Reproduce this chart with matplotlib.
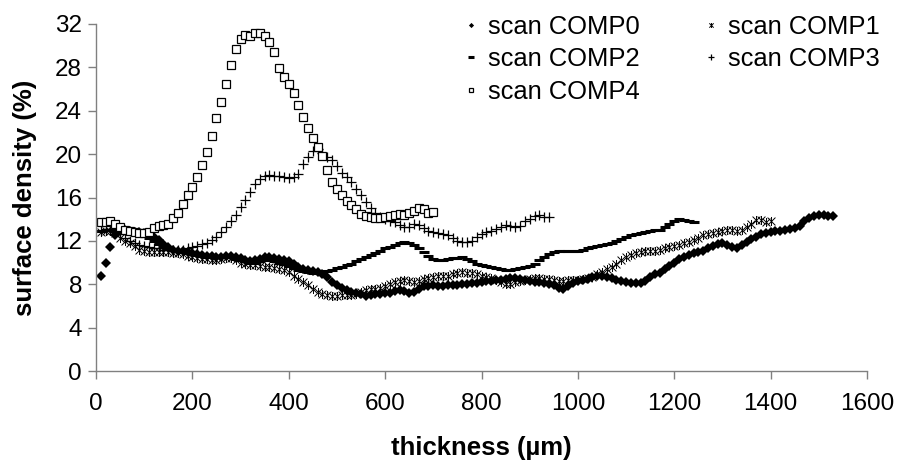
import numpy as np
import matplotlib
matplotlib.use("Agg")
import matplotlib.pyplot as plt
from matplotlib.path import Path

plt.rcParams['font.family'] = ['Liberation Sans', 'DejaVu Sans']

# ---------------- data (thickness step 10 µm, first sample at 10 µm) ----------------
x_start = 10
x_step = 10

comp0 = [8.8, 10.0, 11.4, 12.5, 12.9, 13.0, 12.9, 12.8, 12.8, 12.7,
         12.6, 12.4, 12.1, 11.7, 11.4, 11.2, 11.1, 11.1, 11.0, 10.9,
         10.8, 10.7, 10.6, 10.6, 10.5, 10.5, 10.6, 10.6, 10.5, 10.4,
         10.2, 10.1, 10.2, 10.3, 10.5, 10.5, 10.4, 10.3, 10.2, 10.1,
         9.9, 9.6, 9.4, 9.3, 9.2, 9.1, 8.9, 8.7, 8.2, 7.9,
         7.7, 7.5, 7.3, 7.2, 7.1, 6.9, 7.0, 7.1, 7.1, 7.2,
         7.2, 7.4, 7.5, 7.4, 7.2, 7.3, 7.6, 7.8, 7.8, 7.9,
         7.8, 7.8, 7.9, 7.9, 7.9, 8.0, 8.0, 8.1, 8.1, 8.2,
         8.3, 8.3, 8.4, 8.4, 8.5, 8.6, 8.6, 8.5, 8.4, 8.3,
         8.2, 8.2, 8.1, 8.0, 7.9, 7.7, 7.6, 7.8, 8.1, 8.3,
         8.4, 8.5, 8.7, 8.8, 8.8, 8.7, 8.6, 8.4, 8.3, 8.2,
         8.1, 8.1, 8.1, 8.3, 8.7, 8.9, 9.0, 9.4, 9.7, 10.0,
         10.3, 10.5, 10.7, 10.9, 11.0, 11.1, 11.3, 11.5, 11.7, 11.8,
         11.6, 11.4, 11.3, 11.6, 11.9, 12.2, 12.4, 12.6, 12.7, 12.8,
         12.9, 12.9, 13.0, 13.1, 13.2, 13.4, 13.8, 14.1, 14.3, 14.4,
         14.4, 14.3, 14.3]

comp1 = [12.8, 12.9, 12.9, 12.7, 12.3, 12.0, 11.8, 11.5, 11.2, 11.1,
         11.0, 11.0, 11.0, 11.0, 11.0, 10.9, 10.9, 10.8, 10.6, 10.5,
         10.4, 10.3, 10.3, 10.2, 10.2, 10.3, 10.4, 10.4, 10.2, 10.0,
         9.9, 9.8, 9.8, 9.7, 9.6, 9.6, 9.5, 9.4, 9.3, 9.1,
         8.8, 8.5, 8.2, 7.9, 7.6, 7.3, 7.1, 7.0, 6.9, 6.9,
         7.0, 7.0, 7.0, 7.1, 7.3, 7.5, 7.6, 7.6, 7.7, 7.8,
         8.0, 8.2, 8.3, 8.4, 8.3, 8.2, 8.3, 8.5, 8.6, 8.7,
         8.8, 8.8, 8.8, 8.9, 9.0, 9.1, 9.0, 9.0, 8.9, 8.8,
         8.7, 8.6, 8.4, 8.2, 8.0, 8.0, 8.2, 8.3, 8.4, 8.5,
         8.6, 8.6, 8.5, 8.5, 8.4, 8.3, 8.3, 8.4, 8.4, 8.4,
         8.5, 8.6, 8.7, 8.9, 9.1, 9.4, 9.6, 9.9, 10.2, 10.5,
         10.7, 10.9, 11.0, 11.1, 11.1, 11.1, 11.2, 11.3, 11.4, 11.5,
         11.6, 11.8, 11.9, 12.1, 12.3, 12.5, 12.6, 12.7, 12.8, 12.9,
         13.0, 13.0, 12.9, 13.0, 13.3, 13.6, 13.9, 13.9, 13.7, 13.8]

comp2 = [12.9, 13.0, 13.0, 12.9, 12.9, 12.8, 12.8, 12.7, 12.6, 12.5,
         12.3, 12.0, 11.7, 11.5, 11.3, 11.2, 11.1, 11.0, 10.9, 10.8,
         10.7, 10.6, 10.5, 10.5, 10.5, 10.6, 10.6, 10.5, 10.3, 10.2,
         10.1, 10.0, 10.0, 10.1, 10.2, 10.2, 10.1, 10.0, 9.9, 9.7,
         9.5, 9.3, 9.2, 9.1, 9.0, 9.0, 9.1, 9.2, 9.3, 9.5,
         9.6, 9.8, 9.9, 10.1, 10.3, 10.5, 10.7, 10.9, 11.1, 11.3,
         11.4, 11.6, 11.8, 11.9, 11.8, 11.6, 11.3, 11.0, 10.6, 10.3,
         10.2, 10.2, 10.3, 10.4, 10.4, 10.5, 10.3, 10.1, 9.9, 9.8,
         9.7, 9.6, 9.5, 9.4, 9.3, 9.3, 9.4, 9.5, 9.6, 9.7,
         9.9, 10.2, 10.5, 10.8, 11.0, 11.1, 11.1, 11.1, 11.1, 11.1,
         11.2, 11.3, 11.4, 11.5, 11.6, 11.7, 11.8, 12.0, 12.2, 12.4,
         12.5, 12.6, 12.7, 12.8, 12.9, 13.0, 13.0, 13.3, 13.6, 13.8,
         14.0, 13.9, 13.8, 13.7]

comp3 = [12.9, 13.0, 13.0, 12.8, 12.6, 12.3, 12.0, 11.8, 11.6, 11.5,
         11.4, 11.3, 11.3, 11.2, 11.2, 11.2, 11.2, 11.2, 11.3, 11.4,
         11.5, 11.7, 11.8, 12.1, 12.4, 12.8, 13.3, 13.8, 14.4, 15.1,
         15.8, 16.5, 17.2, 17.7, 18.0, 18.1, 18.0, 18.0, 17.9, 17.8,
         17.9, 18.2, 19.1, 19.7, 20.3, 20.5, 20.1, 19.7, 19.5, 18.9,
         18.3, 17.9, 17.4, 16.8, 16.2, 15.6, 15.0, 14.6, 14.2, 14.0,
         13.8, 13.7, 13.5, 13.3, 13.3, 13.6, 13.5, 13.2, 12.9, 12.8,
         12.7, 12.6, 12.5, 12.3, 12.0, 11.9, 11.9, 12.0, 12.4, 12.6,
         12.8, 12.9, 13.1, 13.3, 13.5, 13.4, 13.3, 13.4, 13.8, 14.0,
         14.3, 14.4, 14.2, 14.2]

comp4 = [13.7, 13.7, 13.8, 13.6, 13.3, 13.0, 12.9, 12.8, 12.7, 12.7,
         12.8, 13.2, 13.4, 13.5, 13.6, 14.1, 14.6, 15.4, 16.2, 17.0,
         17.9, 19.0, 20.2, 21.7, 23.3, 24.8, 26.5, 28.2, 29.7, 30.6,
         31.0, 30.9, 31.2, 31.2, 30.9, 30.3, 29.4, 27.9, 27.1, 26.5,
         25.6, 24.5, 23.4, 22.4, 21.5, 20.7, 19.8, 18.5, 17.4, 16.8,
         16.2, 15.7, 15.3, 14.9, 14.5, 14.3, 14.2, 14.1, 14.1, 14.2,
         14.3, 14.4, 14.5, 14.4, 14.6, 14.8, 15.0, 14.9, 14.6, 14.7]

labels = ["scan COMP0", "scan COMP1", "scan COMP2", "scan COMP3", "scan COMP4"]
x_ticks = [0, 200, 400, 600, 800, 1000, 1200, 1400, 1600]
y_ticks = [0, 4, 8, 12, 16, 20, 24, 28, 32]


def xs(y):
    return x_start + x_step * np.arange(len(y))


# Excel-like "star" marker: an x with a vertical bar
star = Path([(-1, -1), (1, 1), (-1, 1), (1, -1), (0, -1.15), (0, 1.15)],
            [Path.MOVETO, Path.LINETO, Path.MOVETO, Path.LINETO, Path.MOVETO, Path.LINETO])

fig = plt.figure(figsize=(9, 4.67), dpi=100)
ax = fig.add_axes([96 / 900, 1 - 371 / 467, (867 - 96) / 900, (371 - 24) / 467])

h0, = ax.plot(xs(comp0), comp0, ls='none', marker='D', ms=4.8, color='black', mew=0)
h1, = ax.plot(xs(comp1), comp1, ls='none', marker=star, ms=6.5, color='black', mew=0.7,
              mfc='none')
h2, = ax.plot(xs(comp2), comp2, ls='none', marker='_', ms=7, color='black', mew=2.2)
h3, = ax.plot(xs(comp3), comp3, ls='none', marker='+', ms=7, color='black', mew=0.9)
h4, = ax.plot(xs(comp4), comp4, ls='none', marker='s', ms=5.5, mfc='white', mec='black', mew=0.9)

ax.set_xlim(0, 1600)
ax.set_ylim(0, 32)
ax.set_xticks(x_ticks)
ax.set_yticks(y_ticks)
for s in ('top', 'right'):
    ax.spines[s].set_visible(False)
for s in ('left', 'bottom'):
    ax.spines[s].set_color('#808080')
    ax.spines[s].set_linewidth(1.0)
ax.tick_params(axis='both', direction='out', length=6, width=1.0, color='#808080',
               labelsize=17.5, labelcolor='black')
ax.tick_params(axis='x', pad=10)
ax.tick_params(axis='y', pad=4)

ax.set_xlabel("thickness (µm)", fontsize=18.5, fontweight='bold', labelpad=15)
ax.set_ylabel("surface density (%)", fontsize=18.5, fontweight='bold', labelpad=13)

leg = ax.legend([h0, h2, h4, h1, h3],
                [labels[0], labels[2], labels[4], labels[1], labels[3]],
                ncol=2, frameon=False, fontsize=18.4, markerscale=0.55,
                handlelength=0.8, handletextpad=0.25, columnspacing=2.4,
                labelspacing=0.33, borderpad=0, borderaxespad=0,
                loc='upper left', bbox_to_anchor=(461 / 900, 1 - 15 / 467),
                bbox_transform=fig.transFigure)

fig.savefig("out.png", dpi=100)
